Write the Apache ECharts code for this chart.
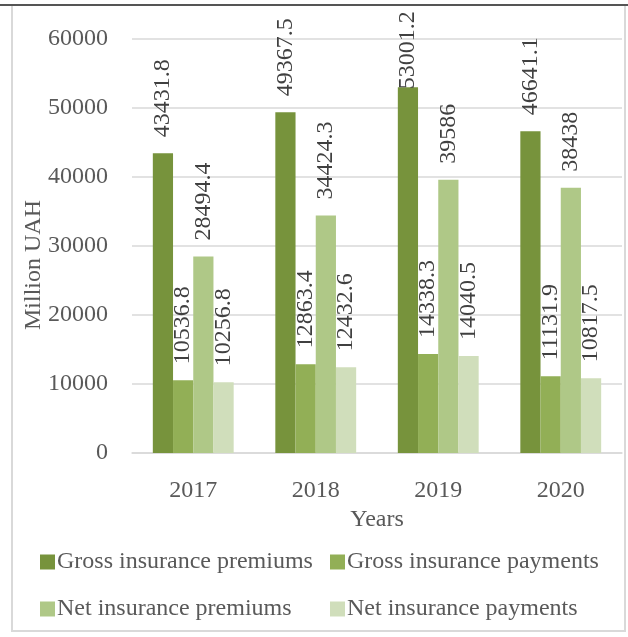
<!DOCTYPE html>
<html>
<head>
<meta charset="utf-8">
<script src="https://cdn.jsdelivr.net/npm/echarts@6/dist/echarts.min.js"></script>
<style>
html,body{margin:0;padding:0;background:#fff;}
#c{position:absolute;left:0;top:0;width:628px;height:637px;}
#frame{position:absolute;left:11px;top:5px;width:611px;height:625px;border-left:2px solid #d9d9d9;border-right:2px solid #d9d9d9;border-bottom:2px solid #d9d9d9;pointer-events:none;}
#topline{position:absolute;left:0;top:4px;width:628px;height:2px;background:#555;pointer-events:none;}
</style>
</head>
<body>
<div id="c"></div>
<div id="frame"></div>
<div id="topline"></div>
<script>
var categories = ['2017', '2018', '2019', '2020'];
var seriesNames = ['Gross insurance premiums', 'Gross insurance payments', 'Net insurance premiums', 'Net insurance payments'];
var grossPremiums = [43431.8, 49367.5, 53001.2, 46641.1];
var grossPayments = [10536.8, 12863.4, 14338.3, 11131.9];
var netPremiums = [28494.4, 34424.3, 39586, 38438];
var netPayments = [10256.8, 12432.6, 14040.5, 10817.5];
var yTicks = [0, 10000, 20000, 30000, 40000, 50000, 60000];

var colors = ['#77933C', '#92AF56', '#AFC887', '#D0DEBB'];
var font = "'Liberation Serif','Times New Roman',serif";
var txt = '#595959';
var fs = 24;
var allData = [grossPremiums, grossPayments, netPremiums, netPayments];

var chart = echarts.init(document.getElementById('c'));
var series = allData.map(function (arr, i) {
  return {
    name: seriesNames[i],
    type: 'bar',
    barGap: '0%',
    barCategoryGap: '34%',
    itemStyle: { color: colors[i] },
    data: arr.map(function (v) {
      var d = { value: v };
      if (v > yTicks[yTicks.length - 1] - 8000) { d.label = { distance: -2 }; }
      return d;
    }),
    label: {
      show: true,
      position: 'top',
      rotate: 90,
      align: 'left',
      verticalAlign: 'middle',
      distance: 16,
      color: '#404040',
      fontFamily: font,
      fontSize: fs
    }
  };
});

var legendText = { color: txt, fontFamily: font, fontSize: fs, lineHeight: 24, padding: [0, 0, 0, -3] };

chart.setOption({
  animation: false,
  textStyle: { fontFamily: font },
  grid: { left: 132, right: 6, top: 39, bottom: 184 },
  xAxis: {
    type: 'category',
    data: categories,
    name: 'Years',
    nameLocation: 'middle',
    nameGap: 55,
    nameMoveOverlap: false,
    nameTextStyle: { color: txt, fontFamily: font, fontSize: fs },
    axisLine: { show: true, lineStyle: { color: '#d9d9d9', width: 1.5 } },
    axisTick: { show: false },
    axisLabel: { color: txt, fontFamily: font, fontSize: fs, margin: 26 }
  },
  yAxis: {
    type: 'value',
    min: yTicks[0],
    max: yTicks[yTicks.length - 1],
    interval: yTicks[1] - yTicks[0],
    name: 'Million UAH',
    nameLocation: 'middle',
    nameGap: 86,
    nameMoveOverlap: false,
    nameTextStyle: { color: txt, fontFamily: font, fontSize: fs, padding: [0, 38, 0, 0] },
    axisLine: { show: false },
    axisTick: { show: false },
    splitLine: { lineStyle: { color: '#d9d9d9', width: 1.5 } },
    axisLabel: { color: txt, fontFamily: font, fontSize: fs, margin: 24, formatter: function (v) { return String(v); } }
  },
  legend: [
    {
      data: [seriesNames[0], seriesNames[2]],
      orient: 'vertical',
      left: 40, top: 550, padding: 0,
      itemWidth: 15, itemHeight: 15, itemGap: 23,
      icon: 'rect',
      textStyle: legendText
    },
    {
      data: [seriesNames[1], seriesNames[3]],
      orient: 'vertical',
      left: 330, top: 550, padding: 0,
      itemWidth: 15, itemHeight: 15, itemGap: 23,
      icon: 'rect',
      textStyle: legendText
    }
  ],
  series: series
});
</script>
</body>
</html>
